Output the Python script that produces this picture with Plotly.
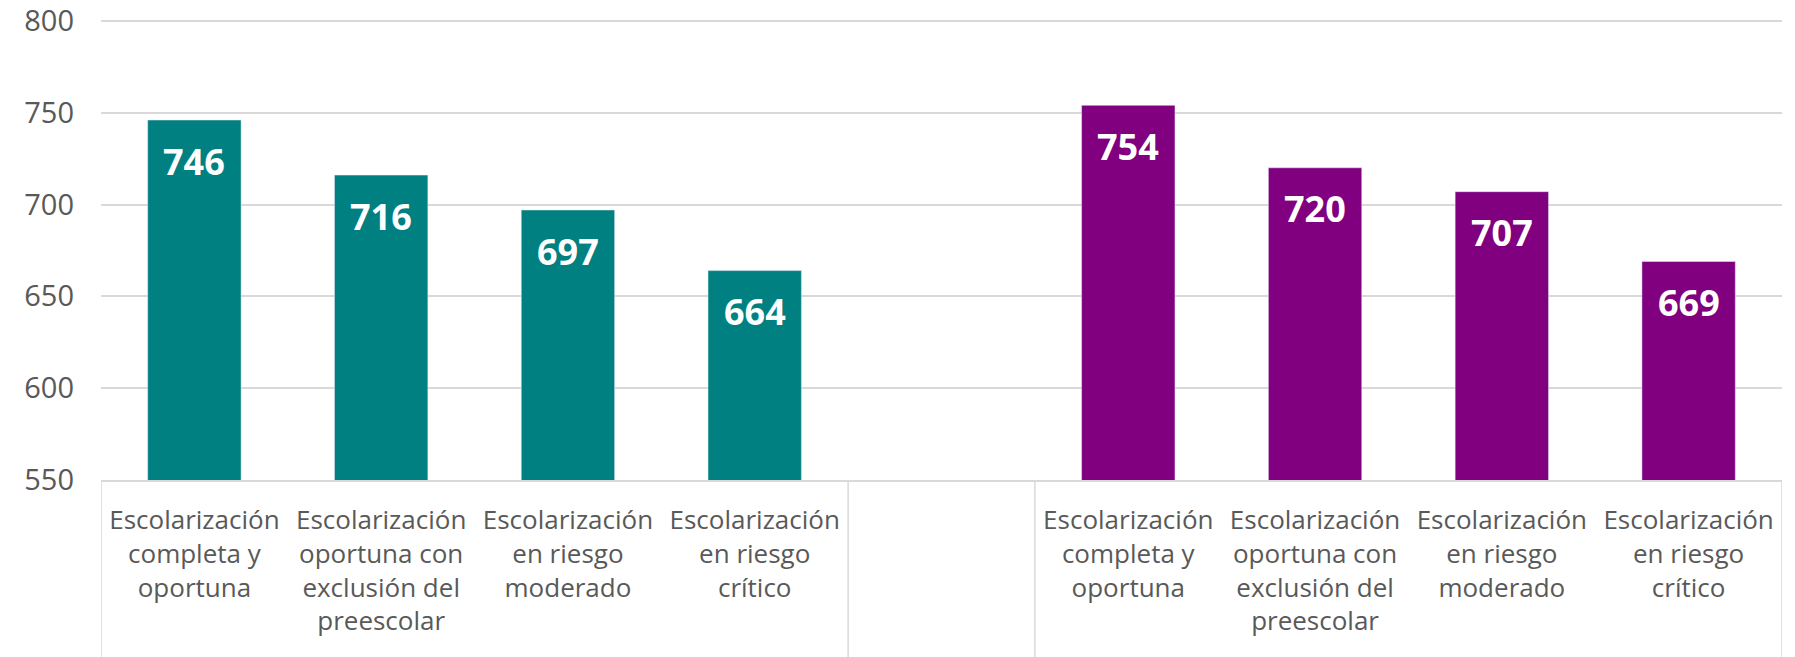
import plotly.graph_objects as go

categories = [
    "Escolarización<br>completa y<br>oportuna",
    "Escolarización<br>oportuna con<br>exclusión del<br>preescolar",
    "Escolarización<br>en riesgo<br>moderado",
    "Escolarización<br>en riesgo<br>crítico",
]
values_group1 = [746, 716, 697, 664]
values_group2 = [754, 720, 707, 669]
y_ticks = [550, 600, 650, 700, 750, 800]

color1 = "#008080"
color2 = "#800080"
n = len(categories)
x1 = list(range(n))
x2 = [n + 1 + i for i in range(n)]
total = n * 2 + 1

fig = go.Figure()
fig.add_trace(go.Bar(x=x1, y=values_group1, marker_color=color1, width=0.5,
                     hoverinfo="y"))
fig.add_trace(go.Bar(x=x2, y=values_group2, marker_color=color2, width=0.5,
                     hoverinfo="y"))

for xs, vs in ((x1, values_group1), (x2, values_group2)):
    for xv, v in zip(xs, vs):
        fig.add_annotation(x=xv, y=v, text=str(v), showarrow=False,
                           yanchor="middle", yshift=-41,
                           font=dict(family="Open Sans", size=36, color="white", weight="bold"))

# category dividers below the axis
for xb in (-0.5, n - 0.5, n + 0.5, total - 0.5):
    fig.add_shape(type="line", xref="x", yref="paper", x0=xb, x1=xb, y0=0, y1=-0.42,
                  line=dict(color="#d9d9d9", width=1.5))

fig.update_layout(
    width=1795, height=657,
    margin=dict(l=93, r=21, t=11, b=185),
    paper_bgcolor="white", plot_bgcolor="white",
    barmode="overlay", showlegend=False,
    font=dict(family="Open Sans", color="#595959"),
)
fig.update_yaxes(range=[550, 801], tickvals=y_ticks, showgrid=True,
                 gridcolor="#d9d9d9", gridwidth=1.5, zeroline=False,
                 tickfont=dict(size=29, color="#595959"), ticklabelstandoff=26,
                 ticklabeloverflow="allow",
                 showline=False, automargin=False)
fig.update_xaxes(range=[-0.5, total - 0.5], tickvals=x1 + x2,
                 ticktext=categories + categories, tickangle=0,
                 showline=True, linecolor="#d9d9d9", linewidth=1.5,
                 showgrid=False, zeroline=False, automargin=False,
                 tickfont=dict(size=26, color="#595959"), ticklabelstandoff=16)

fig.write_html("out.html")
